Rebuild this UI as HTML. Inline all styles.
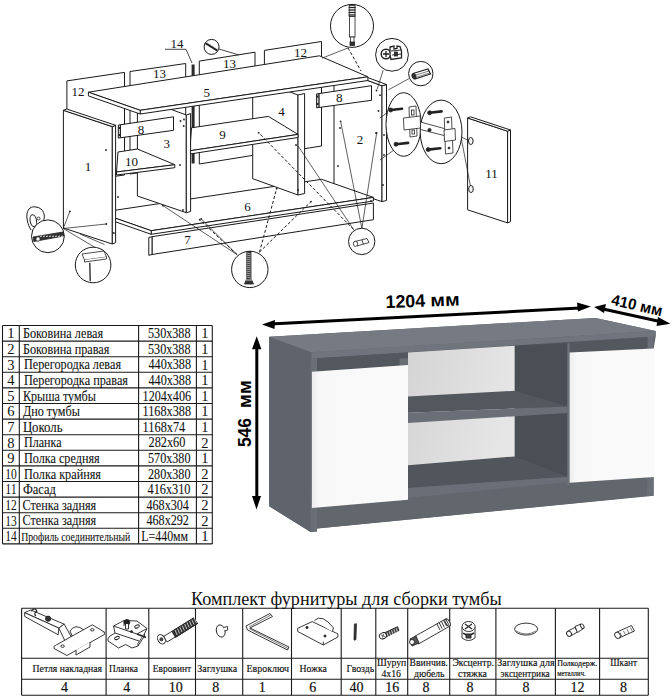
<!DOCTYPE html>
<html><head><meta charset="utf-8"><style>
html,body{margin:0;padding:0;background:#fff;width:672px;height:700px;overflow:hidden}
svg{display:block}
</style></head><body>
<svg width="672" height="700" viewBox="0 0 672 700">
<rect width="672" height="700" fill="#fff"/>
<polygon points="66.9,80.9 124.5,72.4 124.5,175.0 66.9,183.0" fill="#fff" stroke="#1a1a1a" stroke-width="1.0" stroke-linejoin="round" />
<polygon points="130.0,71.5 185.7,63.5 185.7,166.0 130.0,174.0" fill="#fff" stroke="#1a1a1a" stroke-width="1.0" stroke-linejoin="round" />
<rect x="191.6" y="64.5" width="3" height="99" fill="#2a2a2a"/>
<polygon points="199.3,61.1 255.0,52.2 255.0,155.0 199.3,164.0" fill="#fff" stroke="#1a1a1a" stroke-width="1.0" stroke-linejoin="round" />
<polygon points="264.4,50.4 321.5,41.5 321.5,146.0 264.4,155.0" fill="#fff" stroke="#1a1a1a" stroke-width="1.0" stroke-linejoin="round" />
<polygon points="334.0,68.0 382.0,85.8 382.0,201.6 334.0,186.0" fill="#fff" stroke="#1a1a1a" stroke-width="1.0" stroke-linejoin="round" />
<polygon points="382.0,85.8 386.5,84.5 386.5,200.5 382.0,201.6" fill="#fff" stroke="#1a1a1a" stroke-width="1.0" stroke-linejoin="round" />
<polygon points="334.0,68.0 338.5,66.8 386.5,84.5 382.0,85.8" fill="#fff" stroke="#1a1a1a" stroke-width="1.0" stroke-linejoin="round" />
<polygon points="99.4,212.6 321.6,179.3 373.4,197.4 151.2,230.7" fill="#fff" stroke="#1a1a1a" stroke-width="1.0" stroke-linejoin="round" />
<polygon points="151.2,230.7 373.4,197.4 373.4,201.0 151.2,234.3" fill="#fff" stroke="#1a1a1a" stroke-width="1.0" stroke-linejoin="round" />
<polygon points="99.4,212.6 151.2,230.7 151.2,234.3 99.4,216.2" fill="#fff" stroke="#1a1a1a" stroke-width="1.0" stroke-linejoin="round" />
<polygon points="252.7,78.0 298.0,95.0 298.0,195.0 252.7,178.7" fill="#fff" stroke="#1a1a1a" stroke-width="1.0" stroke-linejoin="round" />
<polygon points="298.0,95.0 304.6,93.5 304.6,193.5 298.0,195.0" fill="#fff" stroke="#1a1a1a" stroke-width="1.0" stroke-linejoin="round" />
<polygon points="191.5,127.8 268.4,116.4 298.0,134.4 189.8,150.8" fill="#fff" stroke="#1a1a1a" stroke-width="1.0" stroke-linejoin="round" />
<polygon points="189.8,150.8 298.0,134.4 298.0,137.5 189.8,154.0" fill="#fff" stroke="#1a1a1a" stroke-width="1.0" stroke-linejoin="round" />
<polygon points="137.4,97.0 186.3,115.0 186.3,212.7 137.4,196.0" fill="#fff" stroke="#1a1a1a" stroke-width="1.0" stroke-linejoin="round" />
<polygon points="186.3,115.0 190.6,113.5 190.6,211.5 186.3,212.7" fill="#fff" stroke="#1a1a1a" stroke-width="1.0" stroke-linejoin="round" />
<polygon points="118.0,152.0 137.4,149.0 174.8,164.7 116.5,172.0" fill="#fff" stroke="#1a1a1a" stroke-width="1.0" stroke-linejoin="round" />
<polygon points="116.5,172.0 174.8,164.7 174.8,167.7 116.5,175.0" fill="#fff" stroke="#1a1a1a" stroke-width="1.0" stroke-linejoin="round" />
<polygon points="152.0,236.7 373.4,203.0 373.4,219.7 152.0,254.5" fill="#fff" stroke="#1a1a1a" stroke-width="1.0" stroke-linejoin="round" />
<polygon points="148.8,237.5 152.0,236.7 152.0,254.5 148.8,255.3" fill="#fff" stroke="#1a1a1a" stroke-width="1.0" stroke-linejoin="round" />
<polygon points="120.4,124.8 173.5,116.8 173.5,130.3 120.4,137.8" fill="#fff" stroke="#1a1a1a" stroke-width="1.0" stroke-linejoin="round" />
<polygon points="118.3,125.1 120.4,124.8 120.4,137.8 118.3,138.1" fill="#ddd" stroke="#1a1a1a" stroke-width="1.0" stroke-linejoin="round" />
<rect x="118.6" y="127" width="1.6" height="2" fill="#222"/><rect x="118.6" y="134" width="1.6" height="2" fill="#222"/>
<polygon points="63.4,110.3 112.3,126.6 112.3,244.0 63.4,228.0" fill="#fff" stroke="#1a1a1a" stroke-width="1.0" stroke-linejoin="round" />
<polygon points="112.3,126.6 115.6,125.3 115.6,242.7 112.3,244.0" fill="#fff" stroke="#1a1a1a" stroke-width="1.0" stroke-linejoin="round" />
<polygon points="63.4,110.3 66.7,109.0 115.6,125.3 112.3,126.6" fill="#fff" stroke="#1a1a1a" stroke-width="1.0" stroke-linejoin="round" />
<polygon points="318.9,93.6 371.5,85.7 371.5,100.3 318.9,107.5" fill="#fff" stroke="#1a1a1a" stroke-width="1.0" stroke-linejoin="round" />
<polygon points="316.6,93.9 318.9,93.6 318.9,107.5 316.6,107.8" fill="#ddd" stroke="#1a1a1a" stroke-width="1.0" stroke-linejoin="round" />
<rect x="316.9" y="95.5" width="1.6" height="2" fill="#222"/><rect x="316.9" y="103" width="1.6" height="2" fill="#222"/>
<polygon points="88.4,92.2 319.4,55.8 367.9,76.8 140.2,110.3" fill="#fff" stroke="#1a1a1a" stroke-width="1.0" stroke-linejoin="round" />
<polygon points="140.2,110.3 367.9,76.8 367.9,80.5 140.2,114.0" fill="#fff" stroke="#1a1a1a" stroke-width="1.0" stroke-linejoin="round" />
<polygon points="88.4,92.2 140.2,110.3 140.2,114.0 88.4,95.9" fill="#fff" stroke="#1a1a1a" stroke-width="1.0" stroke-linejoin="round" />
<polygon points="467.6,118.0 507.6,131.2 507.6,222.9 467.6,209.8" fill="#fff" stroke="#1a1a1a" stroke-width="1.0" stroke-linejoin="round" />
<polygon points="507.6,131.2 510.5,130.0 510.5,221.7 507.6,222.9" fill="#fff" stroke="#1a1a1a" stroke-width="1.0" stroke-linejoin="round" />
<polygon points="467.6,118.0 470.5,116.8 510.5,130.0 507.6,131.2" fill="#fff" stroke="#1a1a1a" stroke-width="1.0" stroke-linejoin="round" />
<line x1="236.9" y1="254.5" x2="199.7" y2="219.7" stroke="#1a1a1a" stroke-width="1.0" stroke-dasharray="3,2"/>
<line x1="259.5" y1="252.1" x2="276.7" y2="188.5" stroke="#1a1a1a" stroke-width="1.0" stroke-dasharray="3,2"/>
<line x1="259.5" y1="252.1" x2="311.0" y2="201.6" stroke="#1a1a1a" stroke-width="1.0" stroke-dasharray="3,2"/>
<line x1="163.0" y1="205.7" x2="236.9" y2="254.5" stroke="#1a1a1a" stroke-width="0.7"/>
<line x1="201.2" y1="218.8" x2="236.9" y2="254.5" stroke="#1a1a1a" stroke-width="0.7"/>
<line x1="353.6" y1="229.5" x2="258.7" y2="132.8" stroke="#1a1a1a" stroke-width="1.0" stroke-dasharray="3,2"/>
<line x1="353.6" y1="229.5" x2="298.0" y2="145.9" stroke="#1a1a1a" stroke-width="0.7"/>
<line x1="361.9" y1="228.3" x2="340.6" y2="121.3" stroke="#1a1a1a" stroke-width="0.7"/>
<line x1="361.9" y1="228.3" x2="376.7" y2="132.8" stroke="#1a1a1a" stroke-width="0.7"/>
<line x1="348.1" y1="47.9" x2="322.0" y2="58.2" stroke="#1a1a1a" stroke-width="0.7"/>
<line x1="348.1" y1="47.9" x2="361.0" y2="71.0" stroke="#1a1a1a" stroke-width="1.0" stroke-dasharray="3,2"/>
<line x1="383.2" y1="70.2" x2="377.2" y2="89.0" stroke="#1a1a1a" stroke-width="0.7"/>
<line x1="408.9" y1="78.7" x2="388.3" y2="89.9" stroke="#1a1a1a" stroke-width="0.7"/>
<line x1="388.0" y1="112.0" x2="380.0" y2="118.0" stroke="#1a1a1a" stroke-width="0.7"/>
<line x1="394.0" y1="150.0" x2="380.0" y2="160.0" stroke="#1a1a1a" stroke-width="0.7"/>
<line x1="461.0" y1="137.0" x2="470.0" y2="141.0" stroke="#1a1a1a" stroke-width="0.7"/>
<line x1="461.0" y1="137.0" x2="471.0" y2="189.0" stroke="#1a1a1a" stroke-width="0.7"/>
<line x1="63.2" y1="228.5" x2="69.9" y2="211.4" stroke="#1a1a1a" stroke-width="0.7"/>
<line x1="63.2" y1="228.5" x2="106.3" y2="224.0" stroke="#1a1a1a" stroke-width="0.7"/>
<line x1="63.2" y1="228.5" x2="96.0" y2="248.0" stroke="#1a1a1a" stroke-width="0.7"/>
<line x1="80.0" y1="234.0" x2="104.5" y2="244.5" stroke="#1a1a1a" stroke-width="0.7"/>
<line x1="165.0" y1="49.3" x2="186.0" y2="49.3" stroke="#1a1a1a" stroke-width="0.8"/>
<line x1="186.0" y1="49.3" x2="192.0" y2="63.0" stroke="#1a1a1a" stroke-width="0.8"/>
<line x1="219.0" y1="49.0" x2="239.0" y2="55.0" stroke="#1a1a1a" stroke-width="0.8"/>
<circle cx="352.0" cy="25.9" r="21.5" fill="#fff" stroke="#1a1a1a" stroke-width="1.0"/>
<circle cx="392.0" cy="54.8" r="16.4" fill="#fff" stroke="#1a1a1a" stroke-width="1.0"/>
<circle cx="420.8" cy="73.6" r="12.2" fill="#fff" stroke="#1a1a1a" stroke-width="1.0"/>
<ellipse cx="403.6" cy="124.5" rx="17.6" ry="31.8" fill="#fff" stroke="#1a1a1a" stroke-width="1.0" transform="rotate(0 403.6 124.5)"/>
<ellipse cx="441.1" cy="131.9" rx="20.9" ry="31.8" fill="#fff" stroke="#1a1a1a" stroke-width="1.0" transform="rotate(0 441.1 131.9)"/>
<path d="M31,230 C24,218 26,205 36,207 C44,208 46,216 43,222" fill="none" stroke="#1a1a1a" stroke-width="1"/>
<ellipse cx="33.3" cy="220.6" rx="3.2" ry="6" fill="none" stroke="#1a1a1a" stroke-width="1" transform="rotate(-10 33.3 220.6)"/>
<circle cx="38.5" cy="218.5" r="1.5" fill="none" stroke="#1a1a1a" stroke-width="0.8"/>
<circle cx="47.9" cy="236.3" r="16.4" fill="#fff" stroke="#1a1a1a" stroke-width="1.0"/>
<circle cx="93.1" cy="265.0" r="17.8" fill="#fff" stroke="#1a1a1a" stroke-width="1.0"/>
<circle cx="249.8" cy="269.4" r="18.2" fill="#fff" stroke="#1a1a1a" stroke-width="1.0"/>
<circle cx="361.7" cy="241.4" r="13.2" fill="#fff" stroke="#1a1a1a" stroke-width="1.0"/>
<circle cx="211.6" cy="46.9" r="7.5" fill="#fff" stroke="#1a1a1a" stroke-width="1.0"/>
<ellipse cx="470.8" cy="141.0" rx="2.3" ry="3.5" fill="#fff" stroke="#1a1a1a" stroke-width="1.0" transform="rotate(0 470.8 141.0)"/>
<ellipse cx="471.0" cy="189.0" rx="2.3" ry="3.5" fill="#fff" stroke="#1a1a1a" stroke-width="1.0" transform="rotate(0 471.0 189.0)"/>
<g stroke="#222" stroke-width="0.8" fill="#fff">
<rect x="349.2" y="5.5" width="5.8" height="11" fill="#fff"/>
<line x1="348.6" y1="7.5" x2="355.6" y2="7.5" stroke-width="1.3"/>
<line x1="348.6" y1="10" x2="355.6" y2="10" stroke-width="1.3"/>
<line x1="348.6" y1="12.5" x2="355.6" y2="12.5" stroke-width="1.3"/>
<line x1="348.6" y1="15" x2="355.6" y2="15" stroke-width="1.3"/>
<rect x="349.5" y="16.5" width="5.5" height="20.5"/><rect x="350.6" y="37" width="3.4" height="8" fill="#fff"/><rect x="350" y="42" width="4.5" height="3.5" fill="#333"/>
<path d="M246.8,251.5 L251,251.5 L251,278.5 L253.5,284 L244.5,284 L246.8,278.5 Z" fill="#333"/>
<line x1="247" y1="253" x2="250.8" y2="254" stroke="#fff" stroke-width="0.6"/>
<line x1="247" y1="255" x2="250.8" y2="256" stroke="#fff" stroke-width="0.6"/>
<line x1="247" y1="257" x2="250.8" y2="258" stroke="#fff" stroke-width="0.6"/>
<line x1="247" y1="259" x2="250.8" y2="260" stroke="#fff" stroke-width="0.6"/>
<line x1="247" y1="261" x2="250.8" y2="262" stroke="#fff" stroke-width="0.6"/>
<line x1="247" y1="263" x2="250.8" y2="264" stroke="#fff" stroke-width="0.6"/>
<line x1="247" y1="265" x2="250.8" y2="266" stroke="#fff" stroke-width="0.6"/>
<line x1="247" y1="267" x2="250.8" y2="268" stroke="#fff" stroke-width="0.6"/>
<line x1="247" y1="269" x2="250.8" y2="270" stroke="#fff" stroke-width="0.6"/>
<line x1="247" y1="271" x2="250.8" y2="272" stroke="#fff" stroke-width="0.6"/>
<line x1="247" y1="273" x2="250.8" y2="274" stroke="#fff" stroke-width="0.6"/>
<line x1="247" y1="275" x2="250.8" y2="276" stroke="#fff" stroke-width="0.6"/>
<line x1="247" y1="277" x2="250.8" y2="278" stroke="#fff" stroke-width="0.6"/>
<path d="M246,280 L252,280" stroke="#fff" stroke-width="0.8"/>
<path d="M355,241.5 L367,238.5 L369,242.5 L357,246 Z"/><ellipse cx="355.5" cy="243.8" rx="2.2" ry="2.6"/><line x1="362" y1="240" x2="363.5" y2="244.5"/>
<line x1="205.5" y1="43" x2="217.5" y2="50.5" stroke-width="2.2"/><line x1="206" y1="42" x2="218" y2="49.5" stroke="#fff" stroke-width="0.6"/>
<line x1="390.7" y1="110" x2="402.1" y2="108.7" stroke-width="2.6" stroke-linecap="round"/>
<circle cx="390.7" cy="110" r="2" fill="#222"/>
<line x1="396" y1="144.2" x2="408.1" y2="142.9" stroke-width="2.6" stroke-linecap="round"/>
<circle cx="396" cy="144.2" r="2" fill="#222"/>
<path d="M409,107 L416,106 L417,136 L410,137 Z"/><path d="M403.4,118 L420.2,116 L420.5,128 L404,130 Z"/><rect x="411.5" y="110" width="2.5" height="5" fill="#fff"/><rect x="412" y="130" width="2.5" height="4" fill="#fff"/>
<line x1="429.6" y1="112.8" x2="441.6" y2="111.4" stroke-width="2.6" stroke-linecap="round"/>
<circle cx="429.6" cy="112.8" r="2" fill="#222"/>
<line x1="428.2" y1="149.6" x2="440.3" y2="148.3" stroke-width="2.6" stroke-linecap="round"/>
<circle cx="428.2" cy="149.6" r="2" fill="#222"/>
<path d="M420.5,122 L446,129 L446,136 L420.5,129.5 Z"/><circle cx="429.5" cy="130" r="1.6" fill="#222"/>
<path d="M444.3,118.1 L451.5,117 L453,153 L445.5,154 Z"/><path d="M444,130 L455,128.5 L455.5,140 L444.5,141.5 Z"/><circle cx="448" cy="122" r="1" fill="#222"/><circle cx="449" cy="148" r="1" fill="#222"/>
<path d="M33,237 L63,232 L63.8,236 L33.8,241.5 Z" fill="#333"/>
<line x1="40" y1="236.5" x2="42" y2="236" stroke="#fff" stroke-width="0.8"/>
<line x1="43" y1="236.5" x2="45" y2="236" stroke="#fff" stroke-width="0.8"/>
<line x1="46" y1="236.5" x2="48" y2="236" stroke="#fff" stroke-width="0.8"/>
<line x1="49" y1="236.5" x2="51" y2="236" stroke="#fff" stroke-width="0.8"/>
<line x1="52" y1="236.5" x2="54" y2="236" stroke="#fff" stroke-width="0.8"/>
<line x1="55" y1="236.5" x2="57" y2="236" stroke="#fff" stroke-width="0.8"/>
<line x1="58" y1="236.5" x2="60" y2="236" stroke="#fff" stroke-width="0.8"/>
<line x1="61" y1="236.5" x2="63" y2="236" stroke="#fff" stroke-width="0.8"/>
<circle cx="38" cy="239" r="2.2" fill="#fff"/>
<path d="M82,254 L104,251 L106.5,257 L84.5,260 Z"/><path d="M84.5,260 L84.5,262 L106.5,259 L106.5,257"/><line x1="89.8" y1="262.7" x2="90.2" y2="281.3" stroke-width="1.3"/>
<circle cx="386" cy="54" r="4.8" stroke-width="1.5"/><path d="M383,54 L389,54 M386,51 L386,57" stroke-width="1.3"/>
<path d="M390,47 L394,46 L394,49 L397,48.5 L397,46 L400,46.5 L401.5,51 L401.5,58 L391,59.5 L390,55 Z" stroke-width="1.3"/>
<path d="M391,51 L401,50 M392,55 L401,54" stroke-width="0.9"/><rect x="394.5" y="52" width="3" height="4" fill="#333"/>
<path d="M413,73.5 L428,69 L430.5,74 L415,79 Z" stroke-width="1.2"/><ellipse cx="414" cy="76.2" rx="2" ry="2.8" fill="#333" transform="rotate(-20 414 76.2)"/>
<path d="M416,75 L429,71 M417,77 L429.5,73" stroke-width="0.6"/>
</g>
<g fill="#222">
<circle cx="69.9" cy="211.4" r="0.9"/>
<circle cx="106.3" cy="224" r="0.9"/>
<circle cx="113.8" cy="233" r="0.9"/>
<circle cx="106" cy="150" r="0.9"/>
<circle cx="180.5" cy="121" r="0.9"/>
<circle cx="184" cy="119.5" r="0.9"/>
<circle cx="183.7" cy="126" r="0.9"/>
<circle cx="180" cy="165" r="0.9"/>
<circle cx="183" cy="210" r="0.9"/>
<circle cx="340" cy="128" r="0.9"/>
<circle cx="338" cy="166" r="0.9"/>
<circle cx="376" cy="133" r="0.9"/>
<circle cx="376.5" cy="90.5" r="0.9"/>
<circle cx="380" cy="95.2" r="0.9"/>
<circle cx="378.5" cy="111" r="0.9"/>
<circle cx="384" cy="135" r="0.9"/>
<circle cx="384" cy="155" r="0.9"/>
<circle cx="383" cy="185" r="0.9"/>
<circle cx="371" cy="201" r="0.9"/>
<circle cx="296" cy="145" r="0.9"/>
<circle cx="298" cy="190" r="0.9"/>
<circle cx="258.7" cy="132.8" r="0.9"/>
<circle cx="163" cy="205.7" r="0.9"/>
<circle cx="201.2" cy="218.8" r="0.9"/>
<circle cx="340.6" cy="121.3" r="0.9"/>
<circle cx="376.7" cy="132.8" r="0.9"/>
<circle cx="311" cy="201.6" r="0.9"/>
<circle cx="199.7" cy="219.7" r="0.9"/>
<circle cx="276.7" cy="188.5" r="0.9"/>
<circle cx="118" cy="197" r="0.9"/>
</g>
<text x="88.0" y="171.0" font-family="Liberation Serif" font-size="13" text-anchor="middle" fill="#111" font-weight="normal" >1</text>
<text x="360.0" y="144.0" font-family="Liberation Serif" font-size="13" text-anchor="middle" fill="#111" font-weight="normal" >2</text>
<text x="166.7" y="148.0" font-family="Liberation Serif" font-size="13" text-anchor="middle" fill="#111" font-weight="normal" >3</text>
<text x="281.6" y="116.0" font-family="Liberation Serif" font-size="13" text-anchor="middle" fill="#111" font-weight="normal" >4</text>
<text x="206.8" y="97.0" font-family="Liberation Serif" font-size="13" text-anchor="middle" fill="#111" font-weight="normal" >5</text>
<text x="247.6" y="211.0" font-family="Liberation Serif" font-size="13" text-anchor="middle" fill="#111" font-weight="normal" >6</text>
<text x="187.6" y="244.0" font-family="Liberation Serif" font-size="13" text-anchor="middle" fill="#111" font-weight="normal" >7</text>
<text x="140.9" y="133.8" font-family="Liberation Serif" font-size="13" text-anchor="middle" fill="#111" font-weight="normal" >8</text>
<text x="339.2" y="102.2" font-family="Liberation Serif" font-size="13" text-anchor="middle" fill="#111" font-weight="normal" >8</text>
<text x="222.6" y="139.0" font-family="Liberation Serif" font-size="13" text-anchor="middle" fill="#111" font-weight="normal" >9</text>
<text x="131.4" y="165.5" font-family="Liberation Serif" font-size="13" text-anchor="middle" fill="#111" font-weight="normal" >10</text>
<text x="491.4" y="177.5" font-family="Liberation Serif" font-size="13" text-anchor="middle" fill="#111" font-weight="normal" >11</text>
<text x="78.0" y="95.5" font-family="Liberation Serif" font-size="13" text-anchor="middle" fill="#111" font-weight="normal" >12</text>
<text x="300.6" y="57.0" font-family="Liberation Serif" font-size="13" text-anchor="middle" fill="#111" font-weight="normal" >12</text>
<text x="159.4" y="77.5" font-family="Liberation Serif" font-size="13" text-anchor="middle" fill="#111" font-weight="normal" >13</text>
<text x="229.6" y="67.5" font-family="Liberation Serif" font-size="13" text-anchor="middle" fill="#111" font-weight="normal" >13</text>
<text x="177.0" y="47.5" font-family="Liberation Serif" font-size="13" text-anchor="middle" fill="#111" font-weight="normal" >14</text>
<line x1="2.5" y1="325.5" x2="212.3" y2="325.5" stroke="#1a1a1a" stroke-width="1.1"/>
<line x1="2.5" y1="341.1" x2="212.3" y2="341.1" stroke="#1a1a1a" stroke-width="1.1"/>
<line x1="2.5" y1="356.7" x2="212.3" y2="356.7" stroke="#1a1a1a" stroke-width="1.1"/>
<line x1="2.5" y1="372.3" x2="212.3" y2="372.3" stroke="#1a1a1a" stroke-width="1.1"/>
<line x1="2.5" y1="387.9" x2="212.3" y2="387.9" stroke="#1a1a1a" stroke-width="1.1"/>
<line x1="2.5" y1="403.5" x2="212.3" y2="403.5" stroke="#1a1a1a" stroke-width="1.1"/>
<line x1="2.5" y1="419.1" x2="212.3" y2="419.1" stroke="#1a1a1a" stroke-width="1.1"/>
<line x1="2.5" y1="434.7" x2="212.3" y2="434.7" stroke="#1a1a1a" stroke-width="1.1"/>
<line x1="2.5" y1="450.3" x2="212.3" y2="450.3" stroke="#1a1a1a" stroke-width="1.1"/>
<line x1="2.5" y1="465.9" x2="212.3" y2="465.9" stroke="#1a1a1a" stroke-width="1.1"/>
<line x1="2.5" y1="481.5" x2="212.3" y2="481.5" stroke="#1a1a1a" stroke-width="1.1"/>
<line x1="2.5" y1="497.1" x2="212.3" y2="497.1" stroke="#1a1a1a" stroke-width="1.1"/>
<line x1="2.5" y1="512.7" x2="212.3" y2="512.7" stroke="#1a1a1a" stroke-width="1.1"/>
<line x1="2.5" y1="528.3" x2="212.3" y2="528.3" stroke="#1a1a1a" stroke-width="1.1"/>
<line x1="2.5" y1="543.9" x2="212.3" y2="543.9" stroke="#1a1a1a" stroke-width="1.1"/>
<line x1="2.5" y1="325.5" x2="2.5" y2="543.9" stroke="#1a1a1a" stroke-width="1.1"/>
<line x1="19.3" y1="325.5" x2="19.3" y2="543.9" stroke="#1a1a1a" stroke-width="1.1"/>
<line x1="138.6" y1="325.5" x2="138.6" y2="543.9" stroke="#1a1a1a" stroke-width="1.1"/>
<line x1="196.4" y1="325.5" x2="196.4" y2="543.9" stroke="#1a1a1a" stroke-width="1.1"/>
<line x1="212.3" y1="325.5" x2="212.3" y2="543.9" stroke="#1a1a1a" stroke-width="1.1"/>
<text x="10.9" y="338.4" font-family="Liberation Serif" font-size="14.5" text-anchor="middle" fill="#111" font-weight="normal" >1</text>
<text x="22.9" y="338.1" font-family="Liberation Serif" font-size="14" text-anchor="start" fill="#111" font-weight="normal" textLength="80.2" lengthAdjust="spacingAndGlyphs" stroke="#111" stroke-width="0.1">Боковина левая</text>
<text x="148.0" y="338.1" font-family="Liberation Serif" font-size="14.5" text-anchor="start" fill="#111" font-weight="normal" textLength="42.5" lengthAdjust="spacingAndGlyphs" stroke="#111" stroke-width="0.1">530x388</text>
<text x="204.8" y="338.4" font-family="Liberation Serif" font-size="14.5" text-anchor="middle" fill="#111" font-weight="normal" >1</text>
<text x="10.9" y="354.0" font-family="Liberation Serif" font-size="14.5" text-anchor="middle" fill="#111" font-weight="normal" >2</text>
<text x="22.9" y="353.7" font-family="Liberation Serif" font-size="14" text-anchor="start" fill="#111" font-weight="normal" textLength="86.5" lengthAdjust="spacingAndGlyphs" stroke="#111" stroke-width="0.1">Боковина правая</text>
<text x="148.0" y="353.7" font-family="Liberation Serif" font-size="14.5" text-anchor="start" fill="#111" font-weight="normal" textLength="42.5" lengthAdjust="spacingAndGlyphs" stroke="#111" stroke-width="0.1">530x388</text>
<text x="204.8" y="354.0" font-family="Liberation Serif" font-size="14.5" text-anchor="middle" fill="#111" font-weight="normal" >1</text>
<text x="10.9" y="369.6" font-family="Liberation Serif" font-size="14.5" text-anchor="middle" fill="#111" font-weight="normal" >3</text>
<text x="24.0" y="369.3" font-family="Liberation Serif" font-size="14" text-anchor="start" fill="#111" font-weight="normal" textLength="97" lengthAdjust="spacingAndGlyphs" stroke="#111" stroke-width="0.1">Перегородка левая</text>
<text x="148.5" y="369.3" font-family="Liberation Serif" font-size="14.5" text-anchor="start" fill="#111" font-weight="normal" textLength="42.5" lengthAdjust="spacingAndGlyphs" stroke="#111" stroke-width="0.1">440x388</text>
<text x="204.8" y="369.6" font-family="Liberation Serif" font-size="14.5" text-anchor="middle" fill="#111" font-weight="normal" >1</text>
<text x="10.9" y="385.2" font-family="Liberation Serif" font-size="14.5" text-anchor="middle" fill="#111" font-weight="normal" >4</text>
<text x="24.0" y="384.9" font-family="Liberation Serif" font-size="14" text-anchor="start" fill="#111" font-weight="normal" textLength="104" lengthAdjust="spacingAndGlyphs" stroke="#111" stroke-width="0.1">Перегородка правая</text>
<text x="148.5" y="384.9" font-family="Liberation Serif" font-size="14.5" text-anchor="start" fill="#111" font-weight="normal" textLength="42.5" lengthAdjust="spacingAndGlyphs" stroke="#111" stroke-width="0.1">440x388</text>
<text x="204.8" y="385.2" font-family="Liberation Serif" font-size="14.5" text-anchor="middle" fill="#111" font-weight="normal" >1</text>
<text x="10.9" y="400.8" font-family="Liberation Serif" font-size="14.5" text-anchor="middle" fill="#111" font-weight="normal" >5</text>
<text x="22.9" y="400.5" font-family="Liberation Serif" font-size="14" text-anchor="start" fill="#111" font-weight="normal" textLength="73" lengthAdjust="spacingAndGlyphs" stroke="#111" stroke-width="0.1">Крыша тумбы</text>
<text x="142.6" y="400.5" font-family="Liberation Serif" font-size="14.5" text-anchor="start" fill="#111" font-weight="normal" textLength="48.4" lengthAdjust="spacingAndGlyphs" stroke="#111" stroke-width="0.1">1204x406</text>
<text x="204.8" y="400.8" font-family="Liberation Serif" font-size="14.5" text-anchor="middle" fill="#111" font-weight="normal" >1</text>
<text x="10.9" y="416.4" font-family="Liberation Serif" font-size="14.5" text-anchor="middle" fill="#111" font-weight="normal" >6</text>
<text x="22.9" y="416.1" font-family="Liberation Serif" font-size="14" text-anchor="start" fill="#111" font-weight="normal" textLength="57" lengthAdjust="spacingAndGlyphs" stroke="#111" stroke-width="0.1">Дно тумбы</text>
<text x="142.6" y="416.1" font-family="Liberation Serif" font-size="14.5" text-anchor="start" fill="#111" font-weight="normal" textLength="48.4" lengthAdjust="spacingAndGlyphs" stroke="#111" stroke-width="0.1">1168x388</text>
<text x="204.8" y="416.4" font-family="Liberation Serif" font-size="14.5" text-anchor="middle" fill="#111" font-weight="normal" >1</text>
<text x="10.9" y="432.0" font-family="Liberation Serif" font-size="14.5" text-anchor="middle" fill="#111" font-weight="normal" >7</text>
<text x="22.9" y="431.7" font-family="Liberation Serif" font-size="14" text-anchor="start" fill="#111" font-weight="normal" textLength="39.6" lengthAdjust="spacingAndGlyphs" stroke="#111" stroke-width="0.1">Цоколь</text>
<text x="142.6" y="431.7" font-family="Liberation Serif" font-size="14.5" text-anchor="start" fill="#111" font-weight="normal" textLength="42.7" lengthAdjust="spacingAndGlyphs" stroke="#111" stroke-width="0.1">1168x74</text>
<text x="204.8" y="432.0" font-family="Liberation Serif" font-size="14.5" text-anchor="middle" fill="#111" font-weight="normal" >1</text>
<text x="10.9" y="447.6" font-family="Liberation Serif" font-size="14.5" text-anchor="middle" fill="#111" font-weight="normal" >8</text>
<text x="24.0" y="447.3" font-family="Liberation Serif" font-size="14" text-anchor="start" fill="#111" font-weight="normal" textLength="37.5" lengthAdjust="spacingAndGlyphs" stroke="#111" stroke-width="0.1">Планка</text>
<text x="148.5" y="447.3" font-family="Liberation Serif" font-size="14.5" text-anchor="start" fill="#111" font-weight="normal" textLength="36.8" lengthAdjust="spacingAndGlyphs" stroke="#111" stroke-width="0.1">282x60</text>
<text x="204.8" y="447.6" font-family="Liberation Serif" font-size="14.5" text-anchor="middle" fill="#111" font-weight="normal" >2</text>
<text x="10.9" y="463.2" font-family="Liberation Serif" font-size="14.5" text-anchor="middle" fill="#111" font-weight="normal" >9</text>
<text x="24.0" y="462.9" font-family="Liberation Serif" font-size="14" text-anchor="start" fill="#111" font-weight="normal" textLength="75.6" lengthAdjust="spacingAndGlyphs" stroke="#111" stroke-width="0.1">Полка средняя</text>
<text x="148.0" y="462.9" font-family="Liberation Serif" font-size="14.5" text-anchor="start" fill="#111" font-weight="normal" textLength="42.5" lengthAdjust="spacingAndGlyphs" stroke="#111" stroke-width="0.1">570x380</text>
<text x="204.8" y="463.2" font-family="Liberation Serif" font-size="14.5" text-anchor="middle" fill="#111" font-weight="normal" >1</text>
<text x="10.9" y="478.8" font-family="Liberation Serif" font-size="14.5" text-anchor="middle" fill="#111" font-weight="normal" textLength="11.5" lengthAdjust="spacingAndGlyphs" >10</text>
<text x="24.0" y="478.5" font-family="Liberation Serif" font-size="14" text-anchor="start" fill="#111" font-weight="normal" textLength="77" lengthAdjust="spacingAndGlyphs" stroke="#111" stroke-width="0.1">Полка крайняя</text>
<text x="148.0" y="478.5" font-family="Liberation Serif" font-size="14.5" text-anchor="start" fill="#111" font-weight="normal" textLength="42.5" lengthAdjust="spacingAndGlyphs" stroke="#111" stroke-width="0.1">280x380</text>
<text x="204.8" y="478.8" font-family="Liberation Serif" font-size="14.5" text-anchor="middle" fill="#111" font-weight="normal" >2</text>
<text x="10.9" y="494.4" font-family="Liberation Serif" font-size="14.5" text-anchor="middle" fill="#111" font-weight="normal" textLength="11.5" lengthAdjust="spacingAndGlyphs" >11</text>
<text x="22.9" y="494.1" font-family="Liberation Serif" font-size="14" text-anchor="start" fill="#111" font-weight="normal" textLength="33" lengthAdjust="spacingAndGlyphs" stroke="#111" stroke-width="0.1">Фасад</text>
<text x="147.6" y="494.1" font-family="Liberation Serif" font-size="14.5" text-anchor="start" fill="#111" font-weight="normal" textLength="42.9" lengthAdjust="spacingAndGlyphs" stroke="#111" stroke-width="0.1">416x310</text>
<text x="204.8" y="494.4" font-family="Liberation Serif" font-size="14.5" text-anchor="middle" fill="#111" font-weight="normal" >2</text>
<text x="10.9" y="510.0" font-family="Liberation Serif" font-size="14.5" text-anchor="middle" fill="#111" font-weight="normal" textLength="11.5" lengthAdjust="spacingAndGlyphs" >12</text>
<text x="22.5" y="509.7" font-family="Liberation Serif" font-size="14" text-anchor="start" fill="#111" font-weight="normal" textLength="73.75" lengthAdjust="spacingAndGlyphs" stroke="#111" stroke-width="0.1">Стенка задняя</text>
<text x="146.5" y="509.7" font-family="Liberation Serif" font-size="14.5" text-anchor="start" fill="#111" font-weight="normal" textLength="42.4" lengthAdjust="spacingAndGlyphs" stroke="#111" stroke-width="0.1">468x304</text>
<text x="204.8" y="510.0" font-family="Liberation Serif" font-size="14.5" text-anchor="middle" fill="#111" font-weight="normal" >2</text>
<text x="10.9" y="525.6" font-family="Liberation Serif" font-size="14.5" text-anchor="middle" fill="#111" font-weight="normal" textLength="11.5" lengthAdjust="spacingAndGlyphs" >13</text>
<text x="22.5" y="525.3" font-family="Liberation Serif" font-size="14" text-anchor="start" fill="#111" font-weight="normal" textLength="73.75" lengthAdjust="spacingAndGlyphs" stroke="#111" stroke-width="0.1">Стенка задняя</text>
<text x="146.5" y="525.3" font-family="Liberation Serif" font-size="14.5" text-anchor="start" fill="#111" font-weight="normal" textLength="42.4" lengthAdjust="spacingAndGlyphs" stroke="#111" stroke-width="0.1">468x292</text>
<text x="204.8" y="525.6" font-family="Liberation Serif" font-size="14.5" text-anchor="middle" fill="#111" font-weight="normal" >2</text>
<text x="10.9" y="541.2" font-family="Liberation Serif" font-size="14.5" text-anchor="middle" fill="#111" font-weight="normal" textLength="11.5" lengthAdjust="spacingAndGlyphs" >14</text>
<text x="21.2" y="540.9" font-family="Liberation Serif" font-size="11.5" text-anchor="start" fill="#111" font-weight="normal" textLength="109" lengthAdjust="spacingAndGlyphs" stroke="#111" stroke-width="0.1">Профиль соединительный</text>
<text x="141.3" y="540.9" font-family="Liberation Serif" font-size="14.5" text-anchor="start" fill="#111" font-weight="normal" textLength="46.8" lengthAdjust="spacingAndGlyphs" stroke="#111" stroke-width="0.1">L=440мм</text>
<text x="204.8" y="541.2" font-family="Liberation Serif" font-size="14.5" text-anchor="middle" fill="#111" font-weight="normal" >1</text>
<defs><linearGradient id="bk" x1="0" y1="0" x2="1" y2="0.3"><stop offset="0" stop-color="#d4d4d4"/><stop offset="1" stop-color="#e6e6e6"/></linearGradient><linearGradient id="dr" x1="0" y1="0" x2="1" y2="0"><stop offset="0" stop-color="#ececec"/><stop offset="0.08" stop-color="#f8f8f8"/><stop offset="1" stop-color="#fafafa"/></linearGradient></defs>
<polygon points="269.2,336.8 595.6,317.9 655.7,331.1 655.7,336.4 653.6,348.7 653.6,495.7 317.0,528.5 317.0,531.5 310.6,532.0 269.2,506.3" fill="#60656d" stroke="none" stroke-width="0" stroke-linejoin="round" />
<polygon points="269.2,336.8 311.4,352.3 310.6,532.0 269.2,506.3" fill="#5f646c" stroke="none" stroke-width="0" stroke-linejoin="round" />
<polygon points="269.2,336.8 595.6,317.9 655.7,331.1 311.4,352.3" fill="#767b83" stroke="none" stroke-width="0" stroke-linejoin="round" />
<polygon points="311.4,352.3 655.7,331.1 655.7,336.4 311.4,358.6" fill="#70757d" stroke="none" stroke-width="0" stroke-linejoin="round" />
<polygon points="310.8,358.6 317.0,358.3 317.0,531.5 310.6,532.0" fill="#6a6f77" stroke="none" stroke-width="0" stroke-linejoin="round" />
<polygon points="317.0,358.3 647.7,337.0 647.7,348.2 317.0,371.5" fill="#53585f" stroke="none" stroke-width="0" stroke-linejoin="round" />
<polygon points="647.7,337.0 653.2,336.7 653.6,495.7 647.0,496.2" fill="#6a6f77" stroke="none" stroke-width="0" stroke-linejoin="round" />
<polygon points="408.0,352.6 514.8,345.7 514.8,470.0 408.0,480.0" fill="url(#bk)" stroke="none" stroke-width="0" stroke-linejoin="round" />
<polygon points="514.8,345.7 567.4,343.3 567.4,485.0 514.8,470.0" fill="#4a4f56" stroke="none" stroke-width="0" stroke-linejoin="round" />
<polygon points="399.5,358.8 408.0,358.3 408.0,365.5 399.5,366.0" fill="#6a6f77" stroke="none" stroke-width="0" stroke-linejoin="round" />
<polygon points="408.0,396.6 514.8,390.8 567.4,406.5 408.0,412.8" fill="#53585f" stroke="none" stroke-width="0" stroke-linejoin="round" />
<polygon points="408.0,412.8 567.4,406.5 567.4,413.0 408.0,423.0" fill="#6a6f77" stroke="none" stroke-width="0" stroke-linejoin="round" />
<polygon points="408.0,465.3 514.8,456.4 567.4,476.7 408.0,488.0" fill="#51565d" stroke="none" stroke-width="0" stroke-linejoin="round" />
<polygon points="408.0,488.0 567.4,476.7 567.4,483.0 408.0,498.2" fill="#6a6f77" stroke="none" stroke-width="0" stroke-linejoin="round" />
<polygon points="317.0,507.0 647.0,474.0 647.0,496.0 317.0,528.5" fill="#62676e" stroke="none" stroke-width="0" stroke-linejoin="round" />
<polygon points="567.4,343.3 569.6,343.2 569.6,485.0 567.4,485.0" fill="#6d727a" stroke="none" stroke-width="0" stroke-linejoin="round" />
<polygon points="311.9,371.8 408.0,365.0 408.0,499.8 311.9,507.9" fill="url(#dr)" stroke="none" stroke-width="0" stroke-linejoin="round" />
<polygon points="569.6,352.6 654.0,348.5 654.0,477.1 569.6,482.7" fill="url(#dr)" stroke="none" stroke-width="0" stroke-linejoin="round" />
<line x1="270.0" y1="324.1" x2="580.0" y2="308.1" stroke="#000" stroke-width="3"/>
<polygon points="262.0,324.5 275.0,320.0 274.5,329.0" fill="#000" stroke="none" stroke-width="0" stroke-linejoin="round" />
<polygon points="590.8,306.4 577.0,302.5 578.0,311.5" fill="#000" stroke="none" stroke-width="0" stroke-linejoin="round" />
<line x1="256.8" y1="348.0" x2="256.8" y2="497.0" stroke="#000" stroke-width="3"/>
<polygon points="256.7,336.2 252.0,349.3 261.4,349.3" fill="#000" stroke="none" stroke-width="0" stroke-linejoin="round" />
<polygon points="256.5,509.5 252.0,496.0 261.0,496.0" fill="#000" stroke="none" stroke-width="0" stroke-linejoin="round" />
<line x1="603.0" y1="309.0" x2="660.0" y2="321.5" stroke="#000" stroke-width="3"/>
<polygon points="594.1,307.0 606.0,304.0 604.0,313.0" fill="#000" stroke="none" stroke-width="0" stroke-linejoin="round" />
<polygon points="670.4,323.8 658.0,317.0 656.5,326.0" fill="#000" stroke="none" stroke-width="0" stroke-linejoin="round" />
<text x="385.6" y="306.8" font-family="Liberation Sans" font-size="18" text-anchor="start" fill="#000" font-weight="bold" textLength="39.4" lengthAdjust="spacingAndGlyphs" transform="rotate(-2 422 300)">1204</text>
<text x="430.3" y="306.8" font-family="Liberation Sans" font-size="18" text-anchor="start" fill="#000" font-weight="bold" textLength="29.3" lengthAdjust="spacingAndGlyphs" transform="rotate(-2 422 300)">мм</text>
<text x="610.5" y="304.5" font-family="Liberation Sans" font-size="15.5" text-anchor="start" fill="#000" font-weight="bold" textLength="52" lengthAdjust="spacingAndGlyphs" transform="rotate(13 610.5 304.5)">410 мм</text>
<text x="251.4" y="447.1" font-family="Liberation Sans" font-size="17.5" text-anchor="start" fill="#000" font-weight="bold" textLength="29.2" lengthAdjust="spacingAndGlyphs" transform="rotate(-90 251.4 447.1)">546</text>
<text x="251.4" y="407.9" font-family="Liberation Sans" font-size="17.5" text-anchor="start" fill="#000" font-weight="bold" textLength="27.9" lengthAdjust="spacingAndGlyphs" transform="rotate(-90 251.4 407.9)">мм</text>
<line x1="21.6" y1="608.2" x2="648.3" y2="608.2" stroke="#1a1a1a" stroke-width="1.1"/>
<line x1="21.6" y1="658.2" x2="648.3" y2="658.2" stroke="#1a1a1a" stroke-width="1.1"/>
<line x1="21.6" y1="679.2" x2="648.3" y2="679.2" stroke="#1a1a1a" stroke-width="1.1"/>
<line x1="21.6" y1="695.2" x2="648.3" y2="695.2" stroke="#1a1a1a" stroke-width="1.1"/>
<line x1="21.6" y1="608.2" x2="21.6" y2="695.2" stroke="#1a1a1a" stroke-width="1.1"/>
<line x1="106.1" y1="608.2" x2="106.1" y2="695.2" stroke="#1a1a1a" stroke-width="1.1"/>
<line x1="148.8" y1="608.2" x2="148.8" y2="695.2" stroke="#1a1a1a" stroke-width="1.1"/>
<line x1="195.5" y1="608.2" x2="195.5" y2="695.2" stroke="#1a1a1a" stroke-width="1.1"/>
<line x1="242.7" y1="608.2" x2="242.7" y2="695.2" stroke="#1a1a1a" stroke-width="1.1"/>
<line x1="291.5" y1="608.2" x2="291.5" y2="695.2" stroke="#1a1a1a" stroke-width="1.1"/>
<line x1="341.2" y1="608.2" x2="341.2" y2="695.2" stroke="#1a1a1a" stroke-width="1.1"/>
<line x1="375.8" y1="608.2" x2="375.8" y2="695.2" stroke="#1a1a1a" stroke-width="1.1"/>
<line x1="407.7" y1="608.2" x2="407.7" y2="695.2" stroke="#1a1a1a" stroke-width="1.1"/>
<line x1="449.7" y1="608.2" x2="449.7" y2="695.2" stroke="#1a1a1a" stroke-width="1.1"/>
<line x1="495.9" y1="608.2" x2="495.9" y2="695.2" stroke="#1a1a1a" stroke-width="1.1"/>
<line x1="555.4" y1="608.2" x2="555.4" y2="695.2" stroke="#1a1a1a" stroke-width="1.1"/>
<line x1="599.6" y1="608.2" x2="599.6" y2="695.2" stroke="#1a1a1a" stroke-width="1.1"/>
<line x1="648.3" y1="608.2" x2="648.3" y2="695.2" stroke="#1a1a1a" stroke-width="1.1"/>
<text x="191.0" y="605.2" font-family="Liberation Serif" font-size="18" text-anchor="start" fill="#111" font-weight="normal" textLength="310.7" lengthAdjust="spacingAndGlyphs" >Комплект фурнитуры для сборки тумбы</text>
<g fill="#fff" stroke="#222" stroke-width="0.9" stroke-linejoin="round">
<path d="M24.7,612.7 L30.7,610 L64.2,624.1 L58.8,628.1 Z"/>
<path d="M24.7,612.7 L24.7,616.5 L58.2,634.8 L58.8,628.1 Z"/>
<path d="M58.8,628.1 L64.2,624.1 L71.6,637.5 L65,641 Z"/>
<path d="M70,631 Q75,623 84,630 L87,640 L76,645 Z"/>
<path d="M54.1,646.2 L92.3,624.8 L104.4,632.1 L66.9,652.9 Z"/>
<path d="M54.1,646.2 L54.1,648.5 L66.9,655.5 L104.4,634.5 L104.4,632.1"/>
<path d="M76,650 L76,655 L90,647 L90,642"/>
<circle cx="48.1" cy="618.7" r="2.6" fill="#333"/><ellipse cx="62.6" cy="646.2" rx="1.8" ry="1.2"/><ellipse cx="92.3" cy="629.8" rx="1.8" ry="1.2"/>
<path d="M31,611 Q35,607 37,611 Q33,614 36,616" fill="none" stroke-width="1.1"/>
<path d="M113.5,626 L124,620.5 L137,621 L147,628.5 L144.5,633.5 L138,643.5 L132,645.5 L125.7,642 L118.6,645.5 L108,638.5 L110,636 L115,633 Z"/>
<path d="M108,638.5 L108,641 L118.6,648 L125.7,644.5 L132,648 L138,646 L138,643.5 M144.5,633.5 L144.5,636 L138,646"/>
<path d="M115,633 L139,641 M113.5,626 L137,634 L147,628.5 M124,620.5 L124,626"/>
<circle cx="127" cy="622.3" r="2.8" fill="#222"/><path d="M125.5,624 L125.5,629 L128.5,629 L128.5,624" fill="#fff"/>
<ellipse cx="117" cy="638" rx="2.5" ry="1.4" transform="rotate(-25 117 638)"/><ellipse cx="137" cy="626.5" rx="2.5" ry="1.4" transform="rotate(-25 137 626.5)"/><circle cx="131.5" cy="631.5" r="1" fill="#333"/>
<path d="M137,634 L146,637.5" stroke-width="1.6"/>
<path d="M163.5,636.5 L193.5,618 L197.5,623.5 L167,642 Z" fill="#fff"/>
<path d="M172,631.5 L193.5,618 L197.5,623.5 L175.5,637.5 Z" fill="#333"/>
<line x1="175.0" y1="630.0" x2="177.2" y2="635.0" stroke="#fff" stroke-width="0.7"/>
<line x1="177.4" y1="628.5" x2="179.6" y2="633.5" stroke="#fff" stroke-width="0.7"/>
<line x1="179.8" y1="627.0" x2="182.0" y2="632.0" stroke="#fff" stroke-width="0.7"/>
<line x1="182.2" y1="625.5" x2="184.4" y2="630.5" stroke="#fff" stroke-width="0.7"/>
<line x1="184.6" y1="624.0" x2="186.8" y2="629.0" stroke="#fff" stroke-width="0.7"/>
<line x1="187.0" y1="622.5" x2="189.2" y2="627.5" stroke="#fff" stroke-width="0.7"/>
<line x1="189.4" y1="621.0" x2="191.6" y2="626.0" stroke="#fff" stroke-width="0.7"/>
<line x1="191.8" y1="619.5" x2="194.0" y2="624.5" stroke="#fff" stroke-width="0.7"/>
<line x1="194.2" y1="618.0" x2="196.4" y2="623.0" stroke="#fff" stroke-width="0.7"/>
<ellipse cx="161.4" cy="639.3" rx="3.5" ry="5" transform="rotate(-30 161.4 639.3)"/><circle cx="161.4" cy="639.3" r="1.5" fill="#555"/>
<ellipse cx="220.7" cy="631" rx="4.3" ry="6.2" transform="rotate(-15 220.7 631)"/><path d="M223.5,627.5 L227.4,626.5 L227.8,630 L224.5,631"/>
<path d="M246,626 L270,613.5 L272.5,616.5 L250,628 L289,647 L287.5,650 L247.5,630 Z"/><path d="M249,627 L270.8,615 M249,628.5 L288,648.5" stroke-width="0.6"/>
<path d="M297.7,628.3 L312.2,621.6 L337.9,633.9 L323.3,641.7 Z"/><path d="M297.7,628.3 L297.7,631.5 L323.3,645 L337.9,637 L337.9,633.9"/><path d="M323.3,641.7 L323.3,645"/>
<path d="M314.4,620.5 Q322,613 333.5,628 L332.3,631.7"/><circle cx="307" cy="627.5" r="1.1" fill="#333"/><circle cx="325" cy="636" r="1.1" fill="#333"/>
<path d="M354.3,623.9 L356.6,623.7 L356,639.3 L354.8,640.5 L353.9,639.3 Z" fill="#333" stroke-width="0.6"/>
<path d="M383,633.5 L397.5,626.7 L399,630.5 L384.5,637.8 Z" fill="#444"/><ellipse cx="382.9" cy="635.8" rx="3.6" ry="3" transform="rotate(-25 382.9 635.8)"/><path d="M381,635 L385,636.5 M383.5,633.8 L382.5,637.5" stroke-width="0.7"/>
<line x1="387.0" y1="632.5" x2="388.5" y2="637.0" stroke="#fff" stroke-width="0.7"/>
<line x1="389.3" y1="631.4" x2="390.8" y2="635.9" stroke="#fff" stroke-width="0.7"/>
<line x1="391.6" y1="630.3" x2="393.1" y2="634.8" stroke="#fff" stroke-width="0.7"/>
<line x1="393.9" y1="629.2" x2="395.4" y2="633.7" stroke="#fff" stroke-width="0.7"/>
<line x1="396.2" y1="628.1" x2="397.7" y2="632.6" stroke="#fff" stroke-width="0.7"/>
<path d="M414.5,636.5 L445.5,619 L450,626 L418.5,644 Z"/><ellipse cx="447.7" cy="622.5" rx="2" ry="4" transform="rotate(-30 447.7 622.5)"/>
<path d="M410,639 L416,636 L419,643 L412,646 Z" fill="#555"/><circle cx="412" cy="642" r="2.5" fill="#fff"/>
<line x1="437.0" y1="624.0" x2="440.0" y2="630.0" stroke-width="0.9"/>
<line x1="439.2" y1="622.7" x2="442.2" y2="628.7" stroke-width="0.9"/>
<line x1="441.4" y1="621.4" x2="444.4" y2="627.4" stroke-width="0.9"/>
<line x1="443.6" y1="620.1" x2="446.6" y2="626.1" stroke-width="0.9"/>
<line x1="445.8" y1="618.8" x2="448.8" y2="624.8" stroke-width="0.9"/>
<path d="M462,627 L462,638 Q468.6,643 475,638 L475,627 Z"/><ellipse cx="468.6" cy="626.5" rx="6.5" ry="5"/><path d="M465,624 L472,629 M472,624 L465,629" stroke-width="1.1"/><path d="M463,633 Q468,637 474,633" stroke-width="1.6"/><rect x="466" y="634" width="5" height="4" fill="#444"/>
<ellipse cx="526.1" cy="629.1" rx="11.5" ry="6"/><path d="M516,631 Q526,637 536,631" fill="none" stroke-width="0.6"/>
<path d="M568,631 L575,627.5 L577.5,632 L570.5,636 Z"/><ellipse cx="569" cy="633.7" rx="2.3" ry="2.8" transform="rotate(-30 569 633.7)"/><path d="M575,626.5 L581,624 L583.5,628.5 L577.5,632.5 Z"/><ellipse cx="582.3" cy="626.2" rx="1.5" ry="2.5" transform="rotate(-30 582.3 626.2)"/>
<path d="M616,632.5 L631.5,625.5 L634.5,631 L619,638 Z"/><ellipse cx="617.5" cy="635.3" rx="2.6" ry="3.2" transform="rotate(-30 617.5 635.3)"/>
<line x1="620.0" y1="632.5" x2="622.0" y2="636.5" stroke-width="0.6"/>
<line x1="623.5" y1="630.9" x2="625.5" y2="634.9" stroke-width="0.6"/>
<line x1="627.0" y1="629.3" x2="629.0" y2="633.3" stroke-width="0.6"/>
<line x1="630.5" y1="627.7" x2="632.5" y2="631.7" stroke-width="0.6"/>
</g>
<text x="32.6" y="671.5" font-family="Liberation Serif" font-size="10" text-anchor="start" fill="#111" font-weight="normal" textLength="69.5" lengthAdjust="spacingAndGlyphs" stroke="#111" stroke-width="0.15">Петля накладная</text>
<text x="109.0" y="671.5" font-family="Liberation Serif" font-size="10" text-anchor="start" fill="#111" font-weight="normal" textLength="29" lengthAdjust="spacingAndGlyphs" stroke="#111" stroke-width="0.15">Планка</text>
<text x="152.8" y="671.5" font-family="Liberation Serif" font-size="10" text-anchor="start" fill="#111" font-weight="normal" textLength="38.3" lengthAdjust="spacingAndGlyphs" stroke="#111" stroke-width="0.15">Евровинт</text>
<text x="197.3" y="671.5" font-family="Liberation Serif" font-size="10" text-anchor="start" fill="#111" font-weight="normal" textLength="40" lengthAdjust="spacingAndGlyphs" stroke="#111" stroke-width="0.15">Заглушка</text>
<text x="246.5" y="671.5" font-family="Liberation Serif" font-size="10" text-anchor="start" fill="#111" font-weight="normal" textLength="42.6" lengthAdjust="spacingAndGlyphs" stroke="#111" stroke-width="0.15">Евроключ</text>
<text x="299.6" y="671.5" font-family="Liberation Serif" font-size="10" text-anchor="start" fill="#111" font-weight="normal" textLength="27.2" lengthAdjust="spacingAndGlyphs" stroke="#111" stroke-width="0.15">Ножка</text>
<text x="346.4" y="671.5" font-family="Liberation Serif" font-size="10" text-anchor="start" fill="#111" font-weight="normal" textLength="27.8" lengthAdjust="spacingAndGlyphs" stroke="#111" stroke-width="0.15">Гвоздь</text>
<text x="376.9" y="666.4" font-family="Liberation Serif" font-size="10" text-anchor="start" fill="#111" font-weight="normal" textLength="29.4" lengthAdjust="spacingAndGlyphs" stroke="#111" stroke-width="0.15">Шуруп</text>
<text x="381.4" y="676.9" font-family="Liberation Serif" font-size="10" text-anchor="start" fill="#111" font-weight="normal" textLength="19.6" lengthAdjust="spacingAndGlyphs" stroke="#111" stroke-width="0.15">4x16</text>
<text x="409.6" y="666.4" font-family="Liberation Serif" font-size="10" text-anchor="start" fill="#111" font-weight="normal" textLength="38.4" lengthAdjust="spacingAndGlyphs" stroke="#111" stroke-width="0.15">Ввинчив.</text>
<text x="414.0" y="676.6" font-family="Liberation Serif" font-size="10" text-anchor="start" fill="#111" font-weight="normal" textLength="30.5" lengthAdjust="spacingAndGlyphs" stroke="#111" stroke-width="0.15">дюбель</text>
<text x="452.4" y="666.4" font-family="Liberation Serif" font-size="10" text-anchor="start" fill="#111" font-weight="normal" textLength="41.6" lengthAdjust="spacingAndGlyphs" stroke="#111" stroke-width="0.15">Эксцентр.</text>
<text x="458.0" y="676.6" font-family="Liberation Serif" font-size="10" text-anchor="start" fill="#111" font-weight="normal" textLength="29" lengthAdjust="spacingAndGlyphs" stroke="#111" stroke-width="0.15">стяжка</text>
<text x="497.3" y="666.4" font-family="Liberation Serif" font-size="10" text-anchor="start" fill="#111" font-weight="normal" textLength="57.3" lengthAdjust="spacingAndGlyphs" stroke="#111" stroke-width="0.15">Заглушка для</text>
<text x="500.6" y="676.9" font-family="Liberation Serif" font-size="10" text-anchor="start" fill="#111" font-weight="normal" textLength="49.1" lengthAdjust="spacingAndGlyphs" stroke="#111" stroke-width="0.15">эксцентрика</text>
<text x="610.2" y="666.4" font-family="Liberation Serif" font-size="10" text-anchor="start" fill="#111" font-weight="normal" textLength="27" lengthAdjust="spacingAndGlyphs" stroke="#111" stroke-width="0.15">Шкант</text>
<text x="557.2" y="666.4" font-family="Liberation Serif" font-size="8.5" text-anchor="start" fill="#111" font-weight="normal" textLength="40" lengthAdjust="spacingAndGlyphs" stroke="#111" stroke-width="0.2">Полкодерж.</text>
<text x="557.2" y="675.5" font-family="Liberation Serif" font-size="8.5" text-anchor="start" fill="#111" font-weight="normal" textLength="28.5" lengthAdjust="spacingAndGlyphs" stroke="#111" stroke-width="0.2">металлич.</text>
<text x="64.5" y="692.2" font-family="Liberation Serif" font-size="14" text-anchor="middle" fill="#111" font-weight="normal" stroke="#111" stroke-width="0.2">4</text>
<text x="126.8" y="692.2" font-family="Liberation Serif" font-size="14" text-anchor="middle" fill="#111" font-weight="normal" stroke="#111" stroke-width="0.2">4</text>
<text x="175.7" y="692.2" font-family="Liberation Serif" font-size="14" text-anchor="middle" fill="#111" font-weight="normal" stroke="#111" stroke-width="0.2">10</text>
<text x="215.8" y="692.2" font-family="Liberation Serif" font-size="14" text-anchor="middle" fill="#111" font-weight="normal" stroke="#111" stroke-width="0.2">8</text>
<text x="262.3" y="692.2" font-family="Liberation Serif" font-size="14" text-anchor="middle" fill="#111" font-weight="normal" stroke="#111" stroke-width="0.2">1</text>
<text x="312.7" y="692.2" font-family="Liberation Serif" font-size="14" text-anchor="middle" fill="#111" font-weight="normal" stroke="#111" stroke-width="0.2">6</text>
<text x="356.4" y="692.2" font-family="Liberation Serif" font-size="14" text-anchor="middle" fill="#111" font-weight="normal" stroke="#111" stroke-width="0.2">40</text>
<text x="392.2" y="692.2" font-family="Liberation Serif" font-size="14" text-anchor="middle" fill="#111" font-weight="normal" stroke="#111" stroke-width="0.2">16</text>
<text x="426.0" y="692.2" font-family="Liberation Serif" font-size="14" text-anchor="middle" fill="#111" font-weight="normal" stroke="#111" stroke-width="0.2">8</text>
<text x="470.1" y="692.2" font-family="Liberation Serif" font-size="14" text-anchor="middle" fill="#111" font-weight="normal" stroke="#111" stroke-width="0.2">8</text>
<text x="525.9" y="692.2" font-family="Liberation Serif" font-size="14" text-anchor="middle" fill="#111" font-weight="normal" stroke="#111" stroke-width="0.2">8</text>
<text x="577.5" y="692.2" font-family="Liberation Serif" font-size="14" text-anchor="middle" fill="#111" font-weight="normal" stroke="#111" stroke-width="0.2">12</text>
<text x="623.4" y="692.2" font-family="Liberation Serif" font-size="14" text-anchor="middle" fill="#111" font-weight="normal" stroke="#111" stroke-width="0.2">8</text>
</svg></body></html>
